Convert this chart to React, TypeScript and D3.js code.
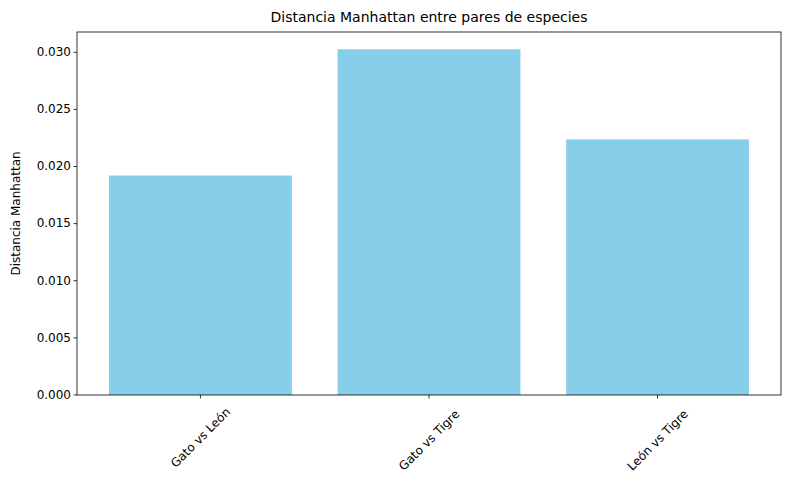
import React from 'react';
import * as d3 from 'd3';

const categories = ['Gato vs León', 'Gato vs Tigre', 'León vs Tigre'];
const values = [0.01921, 0.03026, 0.02237];
const yTicks = [0, 0.005, 0.01, 0.015, 0.02, 0.025, 0.03];

const W = 790;
const H = 490;
const margin = { top: 32, right: 9, bottom: 95, left: 77 };

export default function App() {
  const innerW = W - margin.left - margin.right;
  const innerH = H - margin.top - margin.bottom;

  const x = d3.scaleLinear().domain([-0.54, categories.length - 0.46]).range([0, innerW]);
  const y = d3.scaleLinear().domain([0, d3.max(values)! * 1.05]).range([innerH, 0]);
  const bw = x(0.8) - x(0);
  const font = 'DejaVu Sans, sans-serif';

  return (
    <svg width={W} height={H} style={{ position: 'absolute', left: 0, top: 0, background: '#fff' }} fontFamily={font}>
      <text x={margin.left + innerW / 2} y={22} textAnchor="middle" fontSize={14}>
        Distancia Manhattan entre pares de especies
      </text>
      <text transform={`translate(20,${margin.top + innerH / 2}) rotate(-90)`} textAnchor="middle" fontSize={12}>
        Distancia Manhattan
      </text>
      <g transform={`translate(${margin.left},${margin.top})`}>
        {values.map((v, i) => (
          <rect key={i} x={x(i) - bw / 2} y={y(v)} width={bw} height={innerH - y(v)} fill="#87ceeb" />
        ))}
        <rect x={0} y={0} width={innerW} height={innerH} fill="none" stroke="#000" strokeWidth={0.8} />
        {yTicks.map(t => (
          <g key={t} transform={`translate(0,${y(t)})`}>
            <line x1={-3.5} x2={0} stroke="#000" strokeWidth={0.8} />
            <text x={-6} dy="0.32em" textAnchor="end" fontSize={12}>{t.toFixed(3)}</text>
          </g>
        ))}
        {categories.map((c, i) => {
          const w = c.length * 7.2;
          const half = ((w + 14) * 0.7071) / 2;
          const cy = innerH + 7 + half;
          return (
            <g key={c}>
              <line x1={x(i)} x2={x(i)} y1={innerH} y2={innerH + 3.5} stroke="#000" strokeWidth={0.8} />
              <text transform={`translate(${x(i)},${cy}) rotate(-45)`} textAnchor="middle" dy="0.35em" fontSize={12}>
                {c}
              </text>
            </g>
          );
        })}
      </g>
    </svg>
  );
}
